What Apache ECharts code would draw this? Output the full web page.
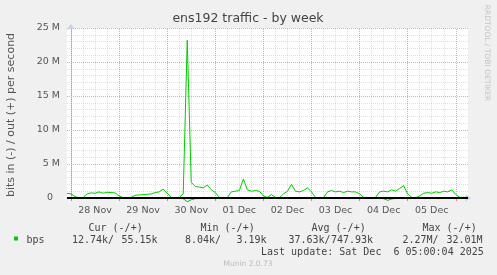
<!DOCTYPE html>
<html><head><meta charset="utf-8">
<script src="https://cdn.jsdelivr.net/npm/echarts@6/dist/echarts.min.js"></script>
<style>html,body{margin:0;padding:0;background:#f0f0f0}#c{width:497px;height:275px}</style>
</head><body><div id="c"></div>
<script>
// time grid: hours since 28 Nov 00:00, 2h step
const startHour = -2;
const stepHours = 2;
// out (+) traffic, Mbit/s
const outValues = [
  0.7,0.6,0.2,0.05,0.05,0.6,0.75,0.7,0.9,0.7,
  0.85,0.8,0.75,0.3,0.05,0.05,0.1,0.4,0.45,0.5,
  0.55,0.6,0.8,0.9,1.3,0.7,0.1,0.05,0.05,0.6,
  23.2,2.3,1.7,1.6,1.5,1.9,1.2,0.8,0.1,0.05,
  0.05,0.9,1.0,1.1,2.8,1.2,1.0,1.1,1.0,0.3,
  0.1,0.5,0.1,0.05,0.6,1.0,2.0,1.0,0.9,1.1,
  1.5,0.9,0.1,0.05,0.05,0.9,1.1,0.9,1.0,0.8,
  1.0,0.9,0.9,0.6,0.1,0.05,0.05,0.1,0.9,1.0,
  0.9,1.2,1.0,1.4,1.8,0.6,0.1,0.05,0.3,0.7,
  0.8,0.7,0.9,0.8,1.0,0.9,1.2,0.5,0.1,0.1,
  0.1
];
// in (-) traffic, Mbit/s (plotted negative)
const inValues = [
  -0.04,-0.03,-0.03,-0.02,-0.02,-0.04,-0.05,-0.04,-0.05,-0.04,
  -0.05,-0.04,-0.04,-0.03,-0.02,-0.02,-0.03,-0.04,-0.04,-0.05,
  -0.05,-0.04,-0.05,-0.06,-0.08,-0.05,-0.03,-0.02,-0.03,-0.1,
  -0.55,-0.25,-0.1,-0.08,-0.07,-0.08,-0.06,-0.05,-0.03,-0.02,
  -0.02,-0.05,-0.06,-0.06,-0.1,-0.06,-0.05,-0.06,-0.05,-0.03,
  -0.02,-0.04,-0.02,-0.02,-0.04,-0.05,-0.08,-0.05,-0.05,-0.06,
  -0.07,-0.05,-0.03,-0.02,-0.02,-0.05,-0.06,-0.05,-0.05,-0.04,
  -0.05,-0.05,-0.05,-0.04,-0.02,-0.02,-0.02,-0.03,-0.05,-0.1,
  -0.35,-0.15,-0.05,-0.07,-0.08,-0.04,-0.02,-0.02,-0.03,-0.04,
  -0.05,-0.04,-0.05,-0.05,-0.06,-0.05,-0.06,-0.04,-0.03,-0.03,
  -0.03
];
const dayBoundaryHours = [0,24,48,72,96,120,144,168,192];
const dayLabelHours = [12,36,60,84,108,132,156,180];
const dayLabels = ['28 Nov','29 Nov','30 Nov','01 Dec','02 Dec','03 Dec','04 Dec','05 Dec'];
const statHeaders = ['Cur (-/+)','Min (-/+)','Avg (-/+)','Max (-/+)'];
const statIn = ['12.74k/','8.04k/','37.63k/','2.27M/'];
const statOut = ['55.15k','3.19k','747.93k','32.01M'];
const seriesName = 'bps';
const lastUpdate = 'Last update: Sat Dec  6 05:00:04 2025';

const outData = outValues.map((v,i)=>[startHour+i*stepHours, v*1e6]);
const inData = inValues.map((v,i)=>[startHour+i*stepHours, v*1e6]);

const minorHours = [];
for (let h = 6; h < 198; h += 6) if (h % 24 !== 0) minorHours.push(h);

const RED = 'rgba(255,40,40,0.45)';
const GREY = 'rgba(160,160,160,0.32)';
const AX = '#c8d0f4';
const GREEN = '#00cc00';
const TXT = '#444';
const gridMarks = [];
dayBoundaryHours.forEach(h=>gridMarks.push({xAxis:h, lineStyle:{color:RED, type:[1,1], width:1}}));
minorHours.forEach(h=>gridMarks.push({xAxis:h, lineStyle:{color:GREY, type:[1,1], width:1}}));

const chart = echarts.init(document.getElementById('c'), null, {renderer:'canvas'});
const mono = '10px "DejaVu Sans Mono"';
const graphics = [
  {type:'text', x:248, y:19, style:{text:'ens192 traffic - by week', font:'12.5px "DejaVu Sans"', fill:'#444', textAlign:'center', textVerticalAlign:'middle'}},
  {type:'text', x:11, y:115, rotation:Math.PI/2, style:{text:'bits in (-) / out (+) per second', font:'11px "DejaVu Sans"', fill:'#555', textAlign:'center', textVerticalAlign:'middle'}},
  {type:'text', x:487, y:53, rotation:-Math.PI/2, style:{text:'RRDTOOL / TOBI OETIKER', font:'7.5px "DejaVu Sans"', fill:'#c4c4c4', textAlign:'center', textVerticalAlign:'middle'}},
  {type:'text', x:248, y:264, style:{text:'Munin 2.0.73', font:'7.5px "DejaVu Sans"', fill:'#bbb', textAlign:'center', textVerticalAlign:'middle'}},
  {type:'rect', shape:{x:14, y:236.5, width:4, height:4}, style:{fill:GREEN}},
  {type:'text', x:26.5, y:240, style:{text:seriesName, font:mono, fill:TXT, textAlign:'left', textVerticalAlign:'middle'}},
  {type:'text', x:261, y:252, style:{text:lastUpdate, font:mono, fill:TXT, textAlign:'left', textVerticalAlign:'middle'}}
];
const headerX = [88.5, 200.5, 311.5, 422.5];
const inX = [72, 185, 288.5, 402.5];
const outX = [121.5, 236.5, 331, 446.5];
statHeaders.forEach((t,i)=>{
  graphics.push({type:'text', x:headerX[i], y:228, style:{text:t, font:mono, fill:TXT, textAlign:'left', textVerticalAlign:'middle'}});
  graphics.push({type:'text', x:inX[i], y:240, style:{text:statIn[i], font:mono, fill:TXT, textAlign:'left', textVerticalAlign:'middle'}});
  graphics.push({type:'text', x:outX[i], y:240, style:{text:statOut[i], font:mono, fill:TXT, textAlign:'left', textVerticalAlign:'middle'}});
});

chart.setOption({
  animation:false,
  backgroundColor:'#f0f0f0',
  grid:{left:67, right:29, top:28, bottom:77, show:true, backgroundColor:'#ffffff', borderWidth:0},
  xAxis:{
    type:'value', min:-2, max:198.1, offset:3,
    axisLine:{show:true, lineStyle:{color:AX, width:1}, symbol:['none','arrow'], symbolSize:[6,6], symbolOffset:[0,3]},
    axisTick:{show:true, customValues:dayBoundaryHours, length:3, lineStyle:{color:'rgba(255,0,0,0.5)'}},
    axisLabel:{customValues:dayLabelHours, formatter:(v)=>dayLabels[dayLabelHours.indexOf(v)] || '', color:'#555', fontFamily:'DejaVu Sans', fontSize:9.5, margin:5},
    splitLine:{show:false}
  },
  yAxis:{
    type:'value', min:0, max:25e6, interval:5e6,
    axisLine:{show:true, lineStyle:{color:AX, width:1}, symbol:['none','arrow'], symbolSize:[7,6], symbolOffset:[0,4]},
    axisTick:{show:false},
    axisLabel:{color:'#555', fontFamily:'DejaVu Sans', fontSize:9.5, margin:7,
      formatter:(v)=> v===0 ? '{z|0}' : (v/1e6)+' M',
      rich:{z:{color:'#555', fontFamily:'DejaVu Sans', fontSize:9.5, padding:[0,7,0,0]}}},
    splitLine:{show:true, lineStyle:{color:RED, type:[1,1]}},
    minorTick:{show:false, splitNumber:5},
    minorSplitLine:{show:true, lineStyle:{color:GREY, type:[1,1]}}
  },
  series:[
    {type:'line', name:'grid', data:[], z:1, silent:true,
     markLine:{symbol:['none','none'], silent:true, label:{show:false}, animation:false, data:gridMarks}},
    {type:'line', name:'in', data:inData, z:3, clip:false, showSymbol:false, symbol:'none', lineStyle:{color:GREEN, width:1}},
    {type:'line', name:'out', data:outData, z:3, clip:false, showSymbol:false, symbol:'none', lineStyle:{color:GREEN, width:1}},
    {type:'line', name:'zero', data:[], z:4, silent:true,
     markLine:{symbol:['none','none'], silent:true, label:{show:false}, animation:false,
       data:[{yAxis:0, lineStyle:{color:'#000', width:2, type:'solid'}}]}}
  ],
  graphic:graphics
});
</script></body></html>
